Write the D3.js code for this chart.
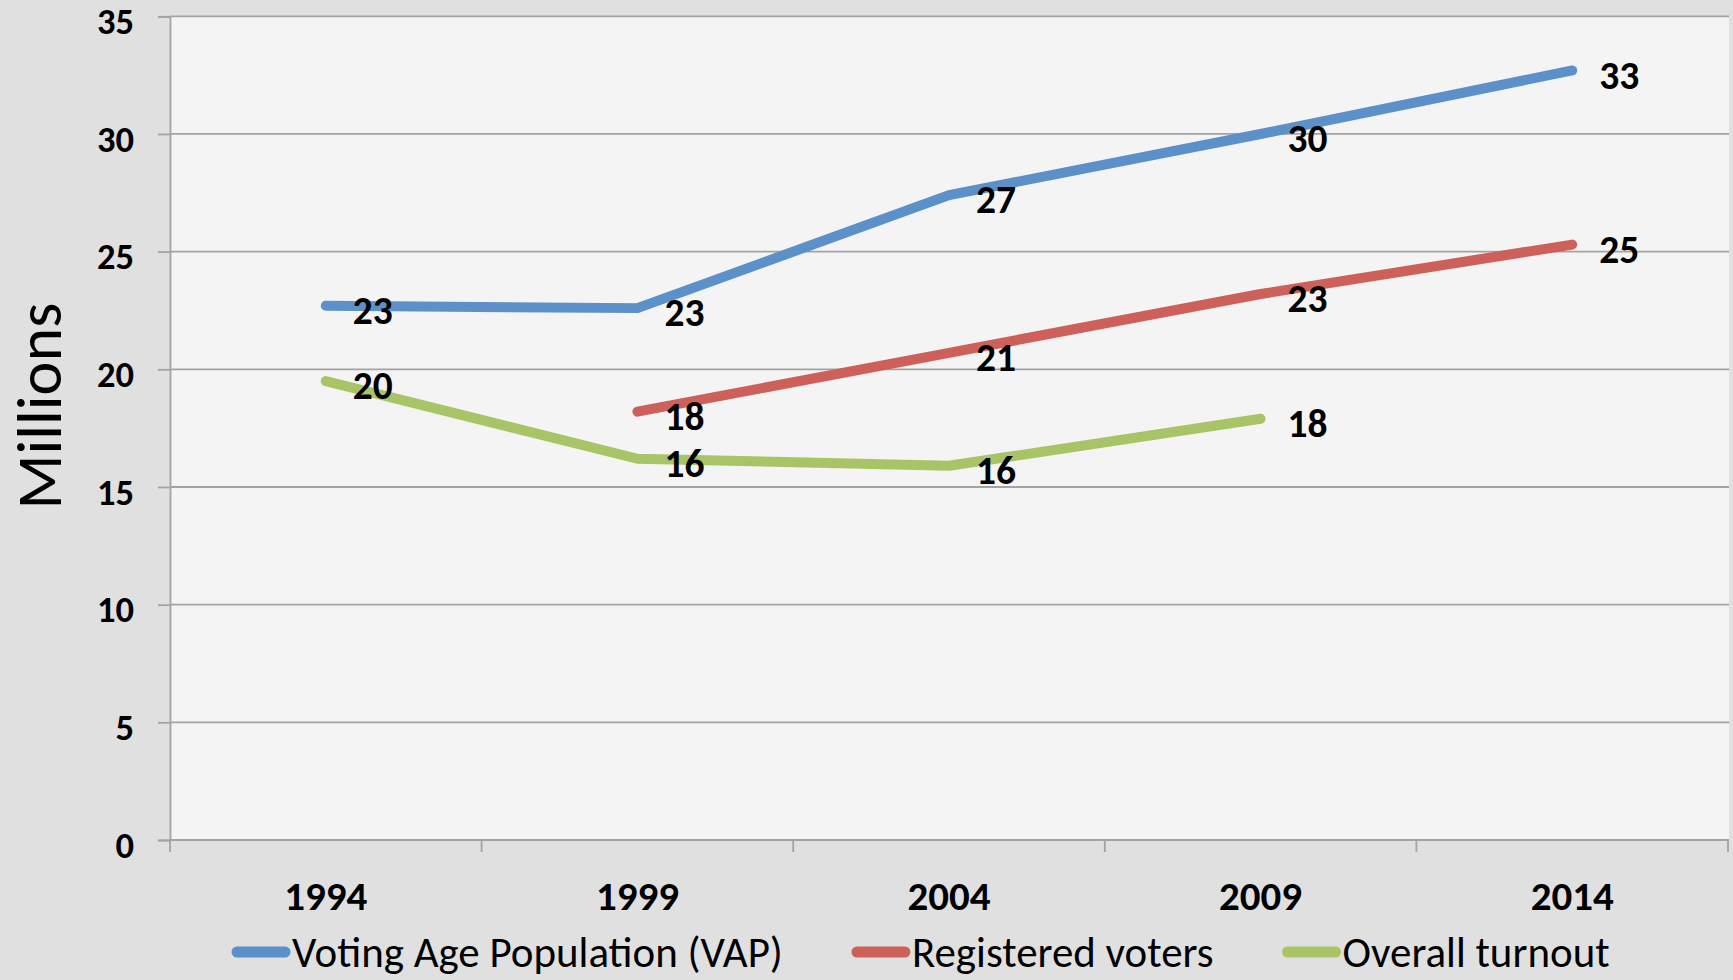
<!DOCTYPE html>
<html>
<head>
<meta charset="utf-8">
<script src="https://cdn.jsdelivr.net/npm/d3@7"></script>
<style>
  html, body { margin: 0; padding: 0; background: #e0e0e0; }
  svg { display: block; }
</style>
</head>
<body>
<svg id="chart" width="1733" height="980"></svg>
<script>
// Election years on the category axis
const years = ["1994", "1999", "2004", "2009", "2014"];

// Series values, in millions (null = no figure for that year)
const vap        = [22.7, 22.6, 27.4, 30.0, 32.7];
const registered = [null, 18.2, 20.7, 23.2, 25.3];
const turnout    = [19.5, 16.2, 15.9, 17.9, null];

const seriesNames  = ["Voting Age Population (VAP)", "Registered voters", "Overall turnout"];
const seriesColors = ["#5b90c8", "#cd6159", "#a8c467"];

const yTicks = [0, 5, 10, 15, 20, 25, 30, 35];
const yTitle = "Millions";

const series = [vap, registered, turnout];

const FONT = "Carlito, Lato, 'Open Sans', sans-serif";

const svg = d3.select("#chart");

// Pick a font size so that a sample string spans the given width
function fitSize(sample, width, weight) {
  const t = svg.append("text")
    .attr("font-family", FONT)
    .attr("font-weight", weight)
    .attr("font-size", 100)
    .text(sample);
  const len = t.node().getComputedTextLength();
  t.remove();
  return 100 * width / len;
}

const tickSize   = fitSize("35", 37, "bold");
const catSize    = fitSize("1994", 83, "bold");
const labelSize  = fitSize("27", 40, "bold");
const legendSize = fitSize(seriesNames[0], 491, "normal");
const titleSize  = fitSize(yTitle, 207, "normal");

const plot = { left: 170, right: 1728, top: 16.3, bottom: 840 };

const x = d3.scaleBand().domain(years).range([plot.left, plot.right]);
const y = d3.scaleLinear().domain([0, 35]).range([plot.bottom, plot.top]);
const cx = yr => x(yr) + x.bandwidth() / 2;

// Plot area background
svg.append("rect")
  .attr("x", plot.left).attr("y", plot.top)
  .attr("width", plot.right - plot.left + 1)
  .attr("height", plot.bottom - plot.top)
  .attr("fill", "#f4f4f4");

// Horizontal gridlines
svg.append("g")
  .selectAll("line")
  .data(yTicks)
  .join("line")
  .attr("x1", plot.left).attr("x2", plot.right + 1)
  .attr("y1", d => y(d)).attr("y2", d => y(d))
  .attr("stroke", "#a3a3a3")
  .attr("stroke-width", 1.8);

// Value axis
const yAxis = svg.append("g")
  .attr("transform", `translate(${plot.left},0)`)
  .call(d3.axisLeft(y).tickValues(yTicks).tickSize(12).tickPadding(24).tickFormat(d3.format("d")));
yAxis.select(".domain").attr("stroke", "#a3a3a3").attr("stroke-width", 1.8);
yAxis.selectAll(".tick line").attr("stroke", "#a3a3a3").attr("stroke-width", 1.8);
yAxis.selectAll(".tick text")
  .attr("font-family", FONT)
  .attr("font-weight", "bold")
  .attr("font-size", tickSize)
  .attr("fill", "#000")
  .attr("y", 4)
  .attr("dy", "0.36em");

// Category axis: ticks sit on band boundaries, labels at band centres
const bounds = years.map(d => x(d)).concat([plot.right]);
const xAxis = svg.append("g");
xAxis.append("line")
  .attr("x1", plot.left).attr("x2", plot.right)
  .attr("y1", plot.bottom).attr("y2", plot.bottom)
  .attr("stroke", "#a3a3a3").attr("stroke-width", 1.8);
xAxis.selectAll("line.tick")
  .data(bounds)
  .join("line")
  .attr("class", "tick")
  .attr("x1", d => d).attr("x2", d => d)
  .attr("y1", plot.bottom).attr("y2", plot.bottom + 12)
  .attr("stroke", "#a3a3a3").attr("stroke-width", 1.8);
xAxis.selectAll("text")
  .data(years)
  .join("text")
  .attr("x", d => cx(d))
  .attr("y", 910)
  .attr("text-anchor", "middle")
  .attr("font-family", FONT)
  .attr("font-weight", "bold")
  .attr("font-size", catSize)
  .attr("fill", "#000")
  .text(d => d);

// Axis title
svg.append("text")
  .attr("transform", "translate(38,406) rotate(-90)")
  .attr("text-anchor", "middle")
  .attr("dy", "0.36em")
  .attr("font-family", FONT)
  .attr("font-size", titleSize)
  .attr("fill", "#000")
  .text(yTitle);

// Series lines
const line = d3.line()
  .defined(d => d != null)
  .x((d, i) => cx(years[i]))
  .y(d => y(d));

svg.append("g")
  .selectAll("path")
  .data(series)
  .join("path")
  .attr("d", d => line(d))
  .attr("fill", "none")
  .attr("stroke", (d, i) => seriesColors[i])
  .attr("stroke-width", 10)
  .attr("stroke-linecap", "round")
  .attr("stroke-linejoin", "round");

// Value labels to the right of each point
const points = [];
series.forEach((s, si) => s.forEach((v, i) => {
  if (v != null) points.push({ year: years[i], value: v });
}));

svg.append("g")
  .selectAll("text")
  .data(points)
  .join("text")
  .attr("x", d => cx(d.year) + 27)
  .attr("y", d => y(d.value) + 4)
  .attr("dy", "0.36em")
  .attr("font-family", FONT)
  .attr("font-weight", "bold")
  .attr("font-size", labelSize)
  .attr("fill", "#000")
  .text(d => d3.format(".0f")(d.value));

// Legend along the bottom
const legend = svg.append("g");
let lx = 232;
seriesNames.forEach((name, i) => {
  legend.append("line")
    .attr("x1", lx + 5).attr("x2", lx + 53)
    .attr("y1", 952).attr("y2", 952)
    .attr("stroke", seriesColors[i])
    .attr("stroke-width", 11)
    .attr("stroke-linecap", "round");
  const t = legend.append("text")
    .attr("x", lx + 60)
    .attr("y", 967)
    .attr("font-family", FONT)
    .attr("font-size", legendSize)
    .attr("fill", "#000")
    .text(name);
  lx += 60 + t.node().getComputedTextLength() + 69;
});
</script>
</body>
</html>
